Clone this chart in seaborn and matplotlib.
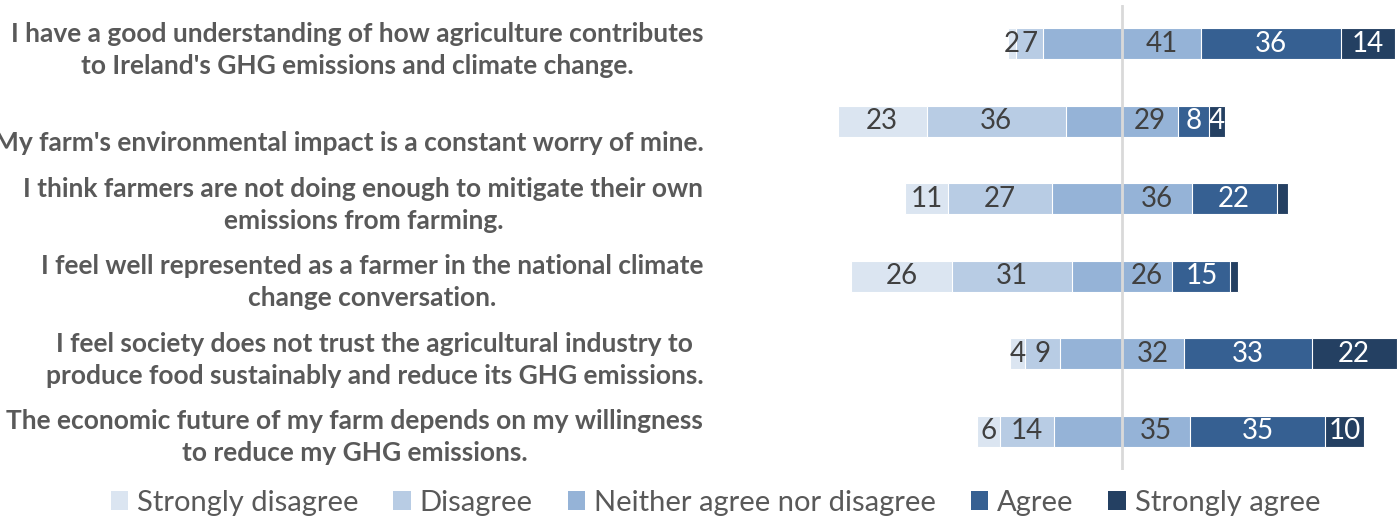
import seaborn as sns
import pandas as pd
import matplotlib.pyplot as plt
from matplotlib.patches import Patch

statements = [
    "I have a good understanding of how agriculture contributes\nto Ireland's GHG emissions and climate change.",
    "\nMy farm's environmental impact is a constant worry of mine.",
    "I think farmers are not doing enough to mitigate their own\nemissions from farming.",
    "I feel well represented as a farmer in the national climate\nchange conversation.",
    "I feel society does not trust the agricultural industry to\nproduce food sustainably and reduce its GHG emissions.",
    "The economic future of my farm depends on my willingness\nto reduce my GHG emissions.",
]
responses = ["Strongly disagree", "Disagree", "Neither agree nor disagree", "Agree", "Strongly agree"]
strongly_disagree = [2, 23, 11, 26, 4, 6]
disagree = [7, 36, 27, 31, 9, 14]
neutral = [41, 29, 36, 26, 32, 35]
agree = [36, 8, 22, 15, 33, 35]
strongly_agree = [14, 4, 3, 2, 22, 10]

colors = ["#DBE5F1", "#B8CCE4", "#95B3D7", "#366092", "#244062"]

df = pd.DataFrame({
    "statement": statements,
    "sd": strongly_disagree,
    "d": disagree,
    "n": neutral,
    "a": agree,
    "sa": strongly_agree,
})
df["n_half"] = df["n"] / 2
df["right_a"] = df["n_half"] + df["a"]
df["right_sa"] = df["right_a"] + df["sa"]
df["left_n"] = -df["n_half"]
df["left_d"] = df["left_n"] - df["d"]
df["left_sd"] = df["left_d"] - df["sd"]

sns.set_theme(style="white")
plt.rcParams["font.family"] = ["Lato", "DejaVu Sans"]

fig = plt.figure(figsize=(14, 5.17), dpi=100)
ppu = 3.87          # pixels per percentage point
zero_px = 1122
ax_left_px = 720
ax = fig.add_axes([ax_left_px / 1400, 1 - 470 / 517, 1 - ax_left_px / 1400, 465 / 517])

# overlapping cumulative bars, outermost first
layers = [("right_sa", 4), ("right_a", 3), ("n_half", 2),
          ("left_sd", 0), ("left_d", 1), ("left_n", 2)]
for col, ci in layers:
    sns.barplot(data=df, x=col, y="statement", orient="h", color=colors[ci],
                width=0.4, edgecolor="white", linewidth=0.8, saturation=1, ax=ax)

ax.axvline(0, color="#D9D9D9", lw=2, zorder=5)

# segment labels
segs = [("sd", "left_sd", "left_d", "#404040"),
        ("d", "left_d", "left_n", "#404040"),
        ("n", None, None, "#404040"),
        ("a", "n_half", "right_a", "white"),
        ("sa", "right_a", "right_sa", "white")]
for i, row in df.iterrows():
    for key, start, end, tc in segs:
        val = row[key]
        if key == "n":
            xc = row["n_half"] / 2
        else:
            xc = (row[start] + row[end]) / 2
        if key in ("a", "sa") and val < 4:
            continue
        ax.text(xc, i, f"{val:.0f}", ha="center", va="center", color=tc,
                fontsize=20, zorder=6)

ax.set_xlim((ax_left_px - zero_px) / ppu, (1400 - zero_px) / ppu)
ax.set_ylim(5.5, -0.5)
ax.set_xlabel("")
ax.set_ylabel("")
ax.set_xticks([])
ax.tick_params(axis="y", length=0, pad=12)
for lab in ax.get_yticklabels():
    lab.set_fontweight("bold")
    lab.set_color("#595959")
    lab.set_fontsize(19)
    lab.set_multialignment("center")
    lab.set_linespacing(1.4)
sns.despine(ax=ax, left=True, bottom=True)

handles = [Patch(facecolor=c, edgecolor="none") for c in colors]
fig.legend(handles, responses, loc="center", bbox_to_anchor=(0.511, 1 - 503 / 517),
           ncol=5, frameon=False, fontsize=21, handlelength=0.6, handleheight=0.6,
           handletextpad=0.3, columnspacing=1.2, labelcolor="#595959")

fig.savefig("out.png", dpi=100)
